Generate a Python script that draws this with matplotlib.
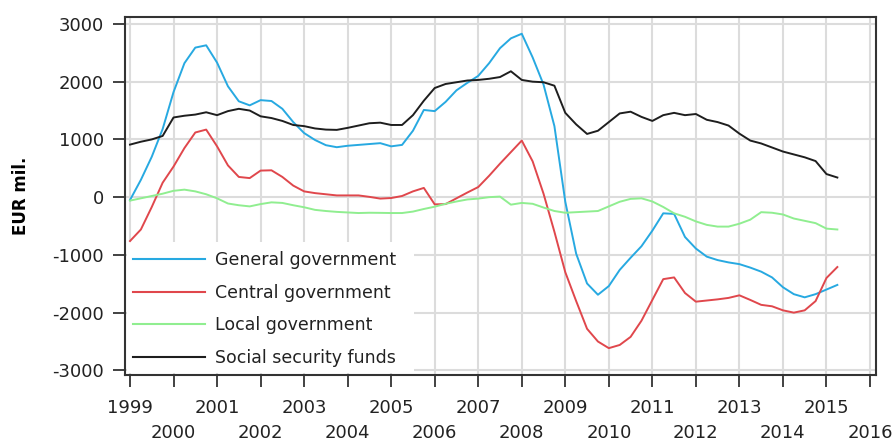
import numpy as np
import pandas as pd
import matplotlib
matplotlib.use("Agg")
import matplotlib.pyplot as plt
from matplotlib.patches import Rectangle

# ---- data (EUR mil., quarterly 1999Q1 - 2015Q2) ----
quarters = pd.period_range("1999Q1", "2015Q2", freq="Q")

general_government = [-50, 300, 700, 1180, 1820, 2320, 2590, 2630, 2330, 1920,
                      1660, 1590, 1680, 1665, 1530, 1300, 1110, 990, 900, 865,
                      890, 905, 920, 935, 880, 905, 1150, 1510, 1490, 1650,
                      1850, 1980, 2100, 2320, 2580, 2750, 2830, 2420, 1950, 1230,
                      -80, -980, -1495, -1690, -1540, -1260, -1050, -850, -580, -280,
                      -290, -690, -890, -1030, -1090, -1130, -1160, -1220, -1290, -1390,
                      -1560, -1680, -1735, -1680, -1600, -1520]
central_government = [-760, -560, -170, 250, 530, 850, 1120, 1170, 880, 550,
                       350, 330, 460, 465, 350, 200, 100, 70, 50, 30,
                       30, 30, 5, -25, -15, 20, 100, 160, -125, -120,
                       -20, 80, 175, 370, 580, 780, 980, 620, 60, -600,
                       -1300, -1800, -2280, -2500, -2615, -2560, -2420, -2140, -1780, -1420,
                       -1390, -1660, -1810, -1790, -1770, -1745, -1700, -1780, -1865, -1890,
                       -1960, -2000, -1960, -1800, -1400, -1210]
local_government = [-60, -20, 20, 60, 110, 130, 100, 50, -20, -110,
                    -140, -160, -120, -90, -100, -140, -175, -220, -240, -255,
                    -265, -275, -270, -272, -275, -275, -250, -205, -165, -115,
                    -75, -40, -25, 0, 10, -130, -100, -115, -180, -240,
                    -270, -260, -250, -240, -160, -80, -30, -20, -75, -170,
                    -280, -340, -420, -480, -510, -510, -460, -390, -260, -270,
                    -300, -370, -410, -450, -545, -560]
social_security_funds = [910, 960, 1000, 1060, 1380, 1410, 1430, 1470, 1420, 1490,
                         1530, 1500, 1400, 1370, 1320, 1250, 1230, 1190, 1170, 1165,
                         1200, 1240, 1280, 1290, 1250, 1250, 1420, 1670, 1890, 1960,
                         1990, 2020, 2030, 2050, 2080, 2180, 2030, 2000, 1990, 1930,
                         1460, 1260, 1095, 1150, 1300, 1450, 1480, 1390, 1320, 1420,
                         1460, 1420, 1440, 1340, 1300, 1240, 1100, 980, 930, 860,
                         790, 740, 690, 625, 400, 340]

series_names = ["General government", "Central government",
                "Local government", "Social security funds"]
series_values = [general_government, central_government,
                 local_government, social_security_funds]
series_colors = ["#27a9e1", "#e0474c", "#90ee90", "#1e1e1e"]

year_ticks = list(range(1999, 2017))
y_ticks = [-3000, -2000, -1000, 0, 1000, 2000, 3000]

x = np.array([q.year + (q.quarter - 1) / 4 for q in quarters])

# ---- figure ----
plt.rcParams["font.family"] = ["DejaVu Sans"]
fig = plt.figure(figsize=(8.92, 4.45), dpi=100)
ax = fig.add_axes([125 / 892, 1 - 375 / 445, 751 / 892, 358 / 445])

for name, vals, col in zip(series_names, series_values, series_colors):
    ax.plot(x, vals, color=col, lw=1.4, label=name, zorder=3)

ax.set_xlim(1998.885, 2016.138)
ax.set_ylim(-3080, 3120)
ax.set_xticks(year_ticks)
ax.set_xticklabels([str(y) for y in year_ticks])
ax.set_yticks(y_ticks)
ax.set_yticklabels([str(v) for v in y_ticks])

ax.set_axisbelow(True)
ax.grid(True, color="#dcdcdc", lw=1.5)

for sp in ax.spines.values():
    sp.set_color("#333333")
    sp.set_linewidth(1.5)

ax.tick_params(axis="both", direction="out", length=8.5, width=1.3,
               color="#333333", labelsize=13, labelcolor="#222222")
ax.tick_params(axis="y", pad=6.5)
ax.tick_params(axis="x", pad=8.5)
for i, t in enumerate(ax.xaxis.get_major_ticks()):
    if i % 2 == 1:
        t.set_pad(27)

ax.set_ylabel("EUR mil.", fontsize=12, fontweight="bold", labelpad=16)

# white legend area covering the grid
ax.add_patch(Rectangle(((127 - 125) / 751, (375 - 373) / 358), 287 / 751, 131 / 358,
                       transform=ax.transAxes, facecolor="white",
                       edgecolor="none", zorder=1))

leg = ax.legend(loc="upper left", bbox_to_anchor=(0.003, 0.363), borderaxespad=0,
                frameon=False, fontsize=12.5, handlelength=4.1, handletextpad=0.6,
                labelspacing=0.84, borderpad=0.35)
for txt in leg.get_texts():
    txt.set_color("#222222")
for ln in leg.get_lines():
    ln.set_linewidth(1.5)

fig.savefig("out.png", dpi=100)
